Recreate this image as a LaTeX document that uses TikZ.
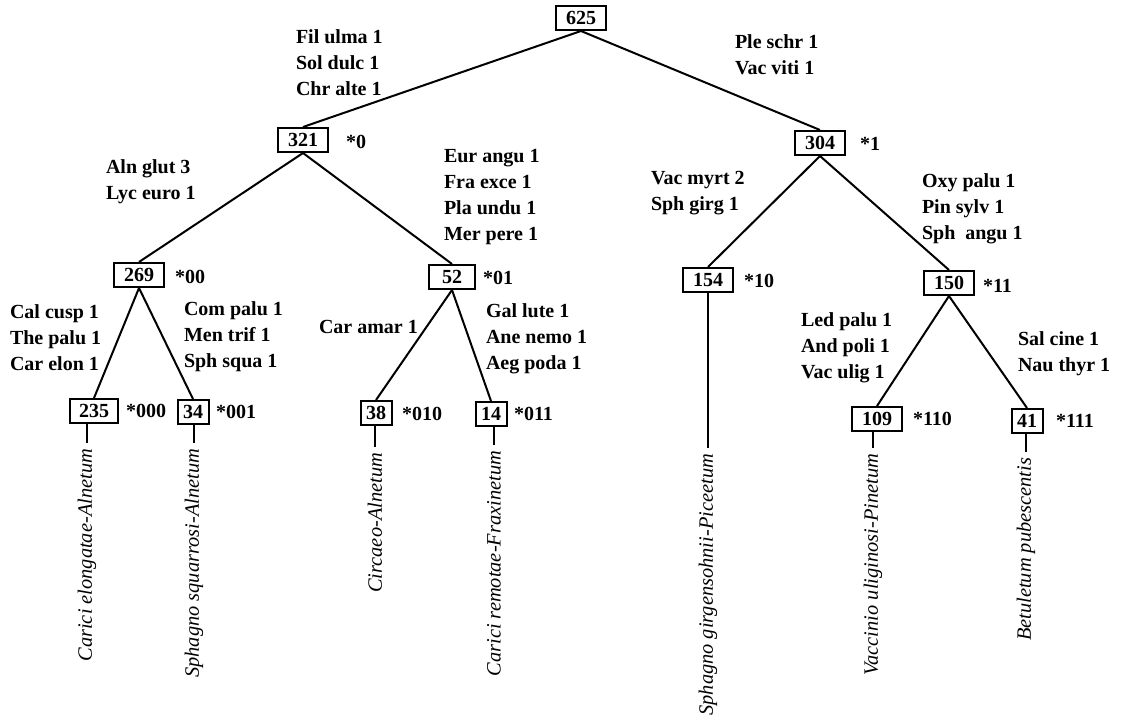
\documentclass[tikz,border=0pt]{standalone}
\usepackage{fontspec}
\setmainfont{Liberation Serif}
\begin{document}
\begin{tikzpicture}[x=1pt, y=-1pt, line width=2pt,
    box/.style = {draw, inner sep=0pt, minimum width=50pt, minimum height=24pt, font=\fontsize{20}{24}\selectfont\bfseries},
    narrow/.style = {box, minimum width=31pt},
    spp/.style = {anchor=base west, align=left, inner sep=0pt, font=\fontsize{20}{26}\selectfont\bfseries},
    code/.style = {anchor=base west, inner sep=0pt, font=\fontsize{20}{24}\selectfont\bfseries},
    assoc/.style = {rotate=90, anchor=east, inner xsep=5pt, inner ysep=0pt, font=\fontsize{20.4}{24}\selectfont\itshape}]

    \useasboundingbox (0, 0) rectangle (1122, 720);

    \node[box] (n625) at (581, 18) {625};

    %--------------------------------------------

    \node[box] (n321) at (303, 140) {321};
    \node[box] (n304) at (820, 143) {304};
    \node[code] (c0) at (345, 148) {*0};
    \node[code] (c1) at (859, 150) {*1};
    \draw (n625.south) -- (n321.north);
    \draw (n625.south) -- (n304.north);
    % species lists: placed at the baseline of their last line
    \node[spp] (s0) at (295, 95) {Fil ulma 1\\Sol dulc 1\\Chr alte 1};
    \node[spp] (s1) at (734, 74) {Ple schr 1\\Vac viti 1};

    %--------------------------------------------

    \node[box] (n269) at (139, 275) {269};
    \node[box, minimum width=46pt] (n52) at (452, 277) {52};
    \node[box] (n154) at (708, 280) {154};
    \node[box] (n150) at (949, 283) {150};
    \node[code] (c00) at (174, 283) {*00};
    \node[code] (c01) at (482, 284) {*01};
    \node[code] (c10) at (743, 287) {*10};
    \node[code] (c11) at (982, 292) {*11};
    \draw (n321.south) -- (n269.north);
    \draw (n321.south) -- (n52.north);
    \draw (n304.south) -- (n154.north);
    \draw (n304.south) -- (n150.north);
    \node[spp] (s00) at (105, 199) {Aln glut 3\\Lyc euro 1};
    \node[spp] (s01) at (443, 240) {Eur angu 1\\Fra exce 1\\Pla undu 1\\Mer pere 1};
    \node[spp] (s10) at (650, 210) {Vac myrt 2\\Sph girg 1};
    \node[spp] (s11) at (921, 239) {Oxy palu 1\\Pin sylv 1\\Sph\ \ angu 1};

    %--------------------------------------------

    \node[box, minimum width=48pt] (n235) at (94, 411) {235};
    \node[narrow] (n34) at (193, 412) {34};
    \node[narrow] (n38) at (376, 413) {38};
    \node[narrow] (n14) at (491, 414) {14};
    \node[box] (n109) at (877, 419) {109};
    \node[narrow] (n41) at (1027, 421) {41};
    \node[code] (c000) at (125, 417) {*000};
    \node[code] (c001) at (215, 418) {*001};
    \node[code] (c010) at (401, 420) {*010};
    \node[code] (c011) at (513, 420) {*011};
    \node[code] (c110) at (912, 425) {*110};
    \node[code] (c111) at (1055, 427) {*111};
    \draw (n269.south) -- (n235.north);
    \draw (n269.south) -- (n34.north);
    \draw (n52.south) -- (n38.north);
    \draw (n52.south) -- (n14.north);
    \draw (n150.south) -- (n109.north);
    \draw (n150.south) -- (n41.north);
    \node[spp] (s000) at (9, 370) {Cal cusp 1\\The palu 1\\Car elon 1};
    \node[spp] (s001) at (183, 367) {Com palu 1\\Men trif 1\\Sph squa 1};
    \node[spp] (s010) at (318, 333) {Car amar 1};
    \node[spp] (s011) at (485, 369) {Gal lute 1\\Ane nemo 1\\Aeg poda 1};
    \node[spp] (s110) at (800, 378) {Led palu 1\\And poli 1\\Vac ulig 1};
    \node[spp] (s111) at (1017, 371) {Sal cine 1\\Nau thyr 1};

    %--------------------------------------------

    \node[assoc] (a000) at (87, 443) {Carici elongatae-Alnetum};
    \node[assoc] (a001) at (194, 443) {Sphagno squarrosi-Alnetum};
    \node[assoc] (a010) at (375, 447) {Circaeo-Alnetum};
    \node[assoc] (a011) at (494, 445) {Carici remotae-Fraxinetum};
    \node[assoc] (a10) at (708, 448) {Sphagno girgensohnii-Piceetum};
    \node[assoc] (a110) at (873, 448) {Vaccinio uliginosi-Pinetum};
    \node[assoc] (a111) at (1026, 452) {Betuletum pubescentis};
    \draw (a000.east |- n235.south) -- (a000.east);
    \draw (a001.east |- n34.south) -- (a001.east);
    \draw (a010.east |- n38.south) -- (a010.east);
    \draw (a011.east |- n14.south) -- (a011.east);
    \draw (n154.south) -- (a10.east);
    \draw (a110.east |- n109.south) -- (a110.east);
    \draw (a111.east |- n41.south) -- (a111.east);

\end{tikzpicture}
\end{document}
